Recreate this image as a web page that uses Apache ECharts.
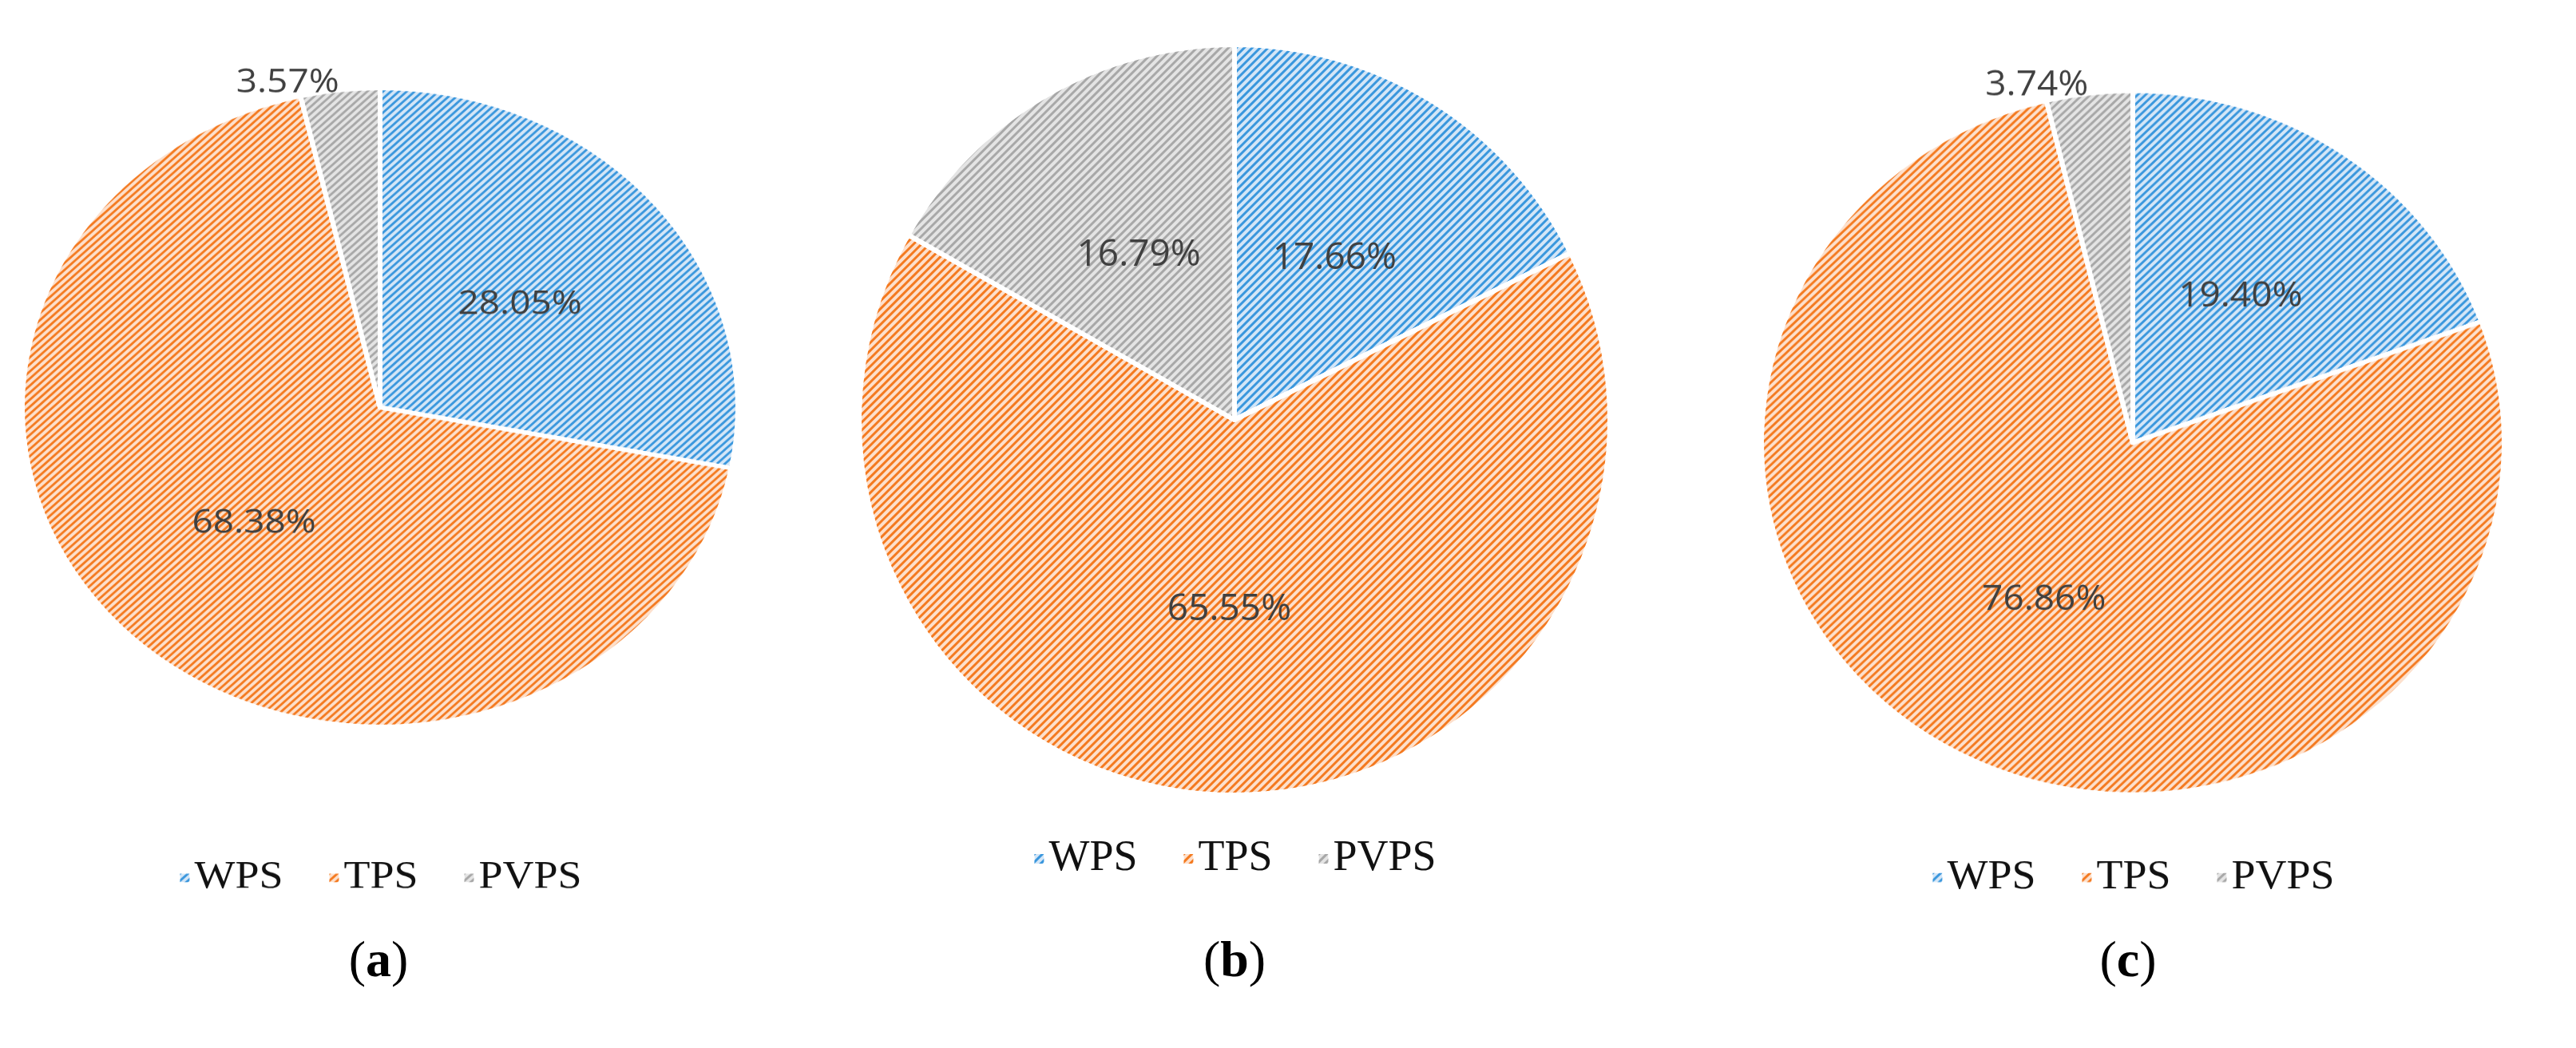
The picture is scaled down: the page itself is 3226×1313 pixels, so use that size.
<!DOCTYPE html>
<html><head><meta charset="utf-8">
<script src="https://cdn.jsdelivr.net/npm/echarts@6/dist/echarts.min.js"></script>
<style>
html,body{margin:0;padding:0;background:#fff;width:3226px;height:1313px;overflow:hidden;position:relative}
.p{position:absolute;transform-origin:0 0}
</style></head><body>
<div id="cap" class="p" style="left:0;top:0;width:3226px;height:1313px"></div>
<div id="pa" class="p"></div><div id="pb" class="p"></div><div id="pc" class="p"></div>
<script>
const categories = ['WPS', 'TPS', 'PVPS'];
const valuesA = [28.05, 68.38, 3.57];
const valuesB = [17.66, 65.55, 16.79];
const valuesC = [19.40, 76.86, 3.74];
const captions = ['a', 'b', 'c'];

const fills = ['#d4e6f7', '#fde0cc', '#e4e4e4'];
const strokes = ['#3a97dd', '#f47a20', '#a8a8a8'];

const panels = [
  {id:'pa', vals:valuesA, L:28, T:110, W:896, s:0.893, legY:1096, small:[2]},
  {id:'pb', vals:valuesB, L:1076, T:56, W:940, s:1, legY:1072, small:[]},
  {id:'pc', vals:valuesC, L:2206, T:114, W:930, s:0.948, legY:1096, small:[2]}
];
const PAD = 100;

panels.forEach(p => {
  const el = document.getElementById(p.id);
  const H = 1250;
  el.style.left = p.L + 'px'; el.style.top = (p.T - PAD*p.s) + 'px';
  el.style.width = p.W + 'px'; el.style.height = H + 'px';
  el.style.transform = 'scaleY(' + p.s + ')';
  const ch = echarts.init(el);
  const R = p.W / 2;
  ch.setOption({
    animation:false,
    legend:{
      top:(p.legY - p.T)/p.s + PAD - 28, left:'center', icon:'rect', itemWidth:14, itemHeight:14, itemGap:56,
      textStyle:{fontFamily:'Liberation Serif', fontSize:54, color:'#111'},
      data:categories.map(c=>({name:c}))
    },
    series:[{
      type:'pie', center:[R, R + PAD], radius:[0, R], startAngle:90, clockwise:true,
      avoidLabelOverlap:false,
      itemStyle:{borderColor:'#fff', borderWidth:6},
      label:{position:'inside', formatter:d=>d.value.toFixed(2)+'%', fontFamily:'Open Sans', fontSize:46, color:'#404040'},
      labelLine:{show:false},
      data: categories.map((c,i)=>({
        name:c, value:p.vals[i],
        itemStyle:{color:fills[i], decal:{symbol:'rect', symbolSize:1, dashArrayX:[1,0], dashArrayY:[3,4], rotation:-Math.PI/4, color:strokes[i]}},
        label: p.small.includes(i) ? {position:'outside', distanceToLabelLine:0} : {},
        labelLine: p.small.includes(i) ? {show:false, length:10, length2:0} : {}
      }))
    }]
  });
});

const capChart = echarts.init(document.getElementById('cap'));
const capX = [474, 1546, 2665];
capChart.setOption({
  graphic: captions.map((c,i)=>({
    type:'text', x:capX[i], y:1206,
    style:{text:'(' + '{b|' + c + '}' + ')', align:'center', verticalAlign:'middle',
      font:'64px "Liberation Serif"', fill:'#000',
      rich:{b:{fontFamily:'Liberation Serif', fontWeight:'bold', fontSize:64, fill:'#000'}}}
  }))
});
</script></body></html>
